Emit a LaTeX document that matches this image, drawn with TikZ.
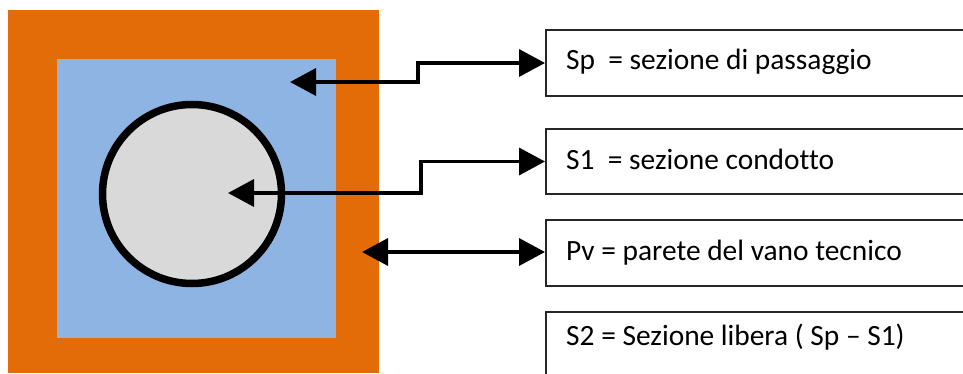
\documentclass[tikz,border=0pt]{standalone}
\usepackage{fontspec}
\setmainfont{Carlito}[Ligatures=NoCommon]
\usetikzlibrary{arrows.meta}
\definecolor{wallorange}{HTML}{E36C09}
\definecolor{passblue}{HTML}{8EB4E3}
\definecolor{passborder}{HTML}{95B3D7}
\definecolor{ductgray}{HTML}{D9D9D9}
\tikzset{
  legendbox/.style={draw=black!85, line width=2pt, fill=white, rectangle, minimum width=440pt, minimum height=#1, inner sep=0pt, anchor=north west},
  legendtext/.style={anchor=base west, inner sep=0pt, font=\fontsize{29.4}{35}\selectfont},
  conn/.style={line width=3.5pt, {Triangle[length=26pt,width=27pt]}-{Triangle[length=26pt,width=27pt]}},
}
\begin{document}
\begin{tikzpicture}[x=1pt,y=-1pt]
\useasboundingbox (0,0) rectangle (963,374);
% wall
\node[rectangle, fill=wallorange, minimum width=371pt, minimum height=363pt, inner sep=0pt, anchor=north west] (wall) at (8,10) {};
% passage section
\node[rectangle, fill=passblue, draw=passborder, line width=2.5pt, minimum width=276pt, minimum height=276pt, inner sep=0pt, anchor=north west] (pass) at (57,59) {};
% duct
\node[circle, fill=ductgray, draw=black, line width=7.5pt, minimum size=179pt, inner sep=0pt] (duct) at (192,194) {};
% legend boxes
\node[legendbox=66pt] (bsp) at (545,29) {};
\node[legendbox=65pt] (bs1) at (545,128) {};
\node[legendbox=66pt] (bpv) at (545,219) {};
\node[legendbox=80pt] (bs2) at (545,311) {};
\node[legendtext] (tsp) at (566,70) {Sp\ \ = sezione di passaggio};
\node[legendtext] (ts1) at (566,170) {S1\ \ = sezione condotto};
\node[legendtext] (tpv) at (566,260) {Pv = parete del vano tecnico};
\node[legendtext] (ts2) at (566,345) {S2 = Sezione libera ( Sp – S1)};
% connector ends
\coordinate (esp) at (290,82);
\coordinate (es1) at (228,193);
\coordinate (epv) at (362,252);
\draw[conn] (esp) -- (418,82) |- (bsp.west);
\draw[conn] (es1) -- (421,193) |- (bs1.west);
\draw[conn] (epv) -- (epv -| bpv.west);
\end{tikzpicture}
\end{document}
